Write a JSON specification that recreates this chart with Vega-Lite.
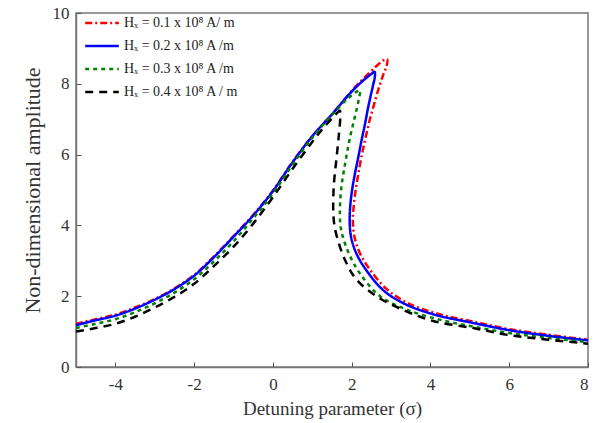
{
  "$schema": "https://vega.github.io/schema/vega-lite/v6.json",
  "width": 512,
  "height": 354,
  "autosize": {"type": "none"},
  "padding": {"left": 76, "top": 13, "right": 7, "bottom": 56},
  "background": "white",
  "config": {
    "view": {"stroke": "#777777", "strokeWidth": 1.5},
    "font": "Liberation Serif"
  },
  "datasets": {
    "curves": [
      {"s": "Hₓ = 0.1 x 10⁸ A/ m", "i": 0, "x": -5, "y": 1.22},
      {"s": "Hₓ = 0.1 x 10⁸ A/ m", "i": 1, "x": -4.5, "y": 1.35},
      {"s": "Hₓ = 0.1 x 10⁸ A/ m", "i": 2, "x": -4, "y": 1.48},
      {"s": "Hₓ = 0.1 x 10⁸ A/ m", "i": 3, "x": -3.5, "y": 1.68},
      {"s": "Hₓ = 0.1 x 10⁸ A/ m", "i": 4, "x": -3, "y": 1.92},
      {"s": "Hₓ = 0.1 x 10⁸ A/ m", "i": 5, "x": -2.5, "y": 2.22},
      {"s": "Hₓ = 0.1 x 10⁸ A/ m", "i": 6, "x": -2, "y": 2.6},
      {"s": "Hₓ = 0.1 x 10⁸ A/ m", "i": 7, "x": -1.5, "y": 3.12},
      {"s": "Hₓ = 0.1 x 10⁸ A/ m", "i": 8, "x": -1, "y": 3.7},
      {"s": "Hₓ = 0.1 x 10⁸ A/ m", "i": 9, "x": -0.5, "y": 4.3},
      {"s": "Hₓ = 0.1 x 10⁸ A/ m", "i": 10, "x": 0, "y": 4.98},
      {"s": "Hₓ = 0.1 x 10⁸ A/ m", "i": 11, "x": 0.5, "y": 5.8},
      {"s": "Hₓ = 0.1 x 10⁸ A/ m", "i": 12, "x": 1, "y": 6.52},
      {"s": "Hₓ = 0.1 x 10⁸ A/ m", "i": 13, "x": 1.5, "y": 7.14},
      {"s": "Hₓ = 0.1 x 10⁸ A/ m", "i": 14, "x": 2, "y": 7.8},
      {"s": "Hₓ = 0.1 x 10⁸ A/ m", "i": 15, "x": 2.3, "y": 8.15},
      {"s": "Hₓ = 0.1 x 10⁸ A/ m", "i": 16, "x": 2.6, "y": 8.47},
      {"s": "Hₓ = 0.1 x 10⁸ A/ m", "i": 17, "x": 2.8, "y": 8.66},
      {"s": "Hₓ = 0.1 x 10⁸ A/ m", "i": 18, "x": 2.9, "y": 8.7},
      {"s": "Hₓ = 0.1 x 10⁸ A/ m", "i": 19, "x": 2.89, "y": 8.52},
      {"s": "Hₓ = 0.1 x 10⁸ A/ m", "i": 20, "x": 2.8, "y": 8.25},
      {"s": "Hₓ = 0.1 x 10⁸ A/ m", "i": 21, "x": 2.68, "y": 7.85},
      {"s": "Hₓ = 0.1 x 10⁸ A/ m", "i": 22, "x": 2.55, "y": 7.35},
      {"s": "Hₓ = 0.1 x 10⁸ A/ m", "i": 23, "x": 2.44, "y": 6.9},
      {"s": "Hₓ = 0.1 x 10⁸ A/ m", "i": 24, "x": 2.34, "y": 6.41},
      {"s": "Hₓ = 0.1 x 10⁸ A/ m", "i": 25, "x": 2.25, "y": 5.95},
      {"s": "Hₓ = 0.1 x 10⁸ A/ m", "i": 26, "x": 2.17, "y": 5.47},
      {"s": "Hₓ = 0.1 x 10⁸ A/ m", "i": 27, "x": 2.1, "y": 5.0},
      {"s": "Hₓ = 0.1 x 10⁸ A/ m", "i": 28, "x": 2.05, "y": 4.53},
      {"s": "Hₓ = 0.1 x 10⁸ A/ m", "i": 29, "x": 2.03, "y": 4.1},
      {"s": "Hₓ = 0.1 x 10⁸ A/ m", "i": 30, "x": 2.07, "y": 3.68},
      {"s": "Hₓ = 0.1 x 10⁸ A/ m", "i": 31, "x": 2.21, "y": 3.21},
      {"s": "Hₓ = 0.1 x 10⁸ A/ m", "i": 32, "x": 2.47, "y": 2.74},
      {"s": "Hₓ = 0.1 x 10⁸ A/ m", "i": 33, "x": 2.89, "y": 2.2},
      {"s": "Hₓ = 0.1 x 10⁸ A/ m", "i": 34, "x": 3.4, "y": 1.82},
      {"s": "Hₓ = 0.1 x 10⁸ A/ m", "i": 35, "x": 4.16, "y": 1.51},
      {"s": "Hₓ = 0.1 x 10⁸ A/ m", "i": 36, "x": 5.18, "y": 1.26},
      {"s": "Hₓ = 0.1 x 10⁸ A/ m", "i": 37, "x": 6, "y": 1.07},
      {"s": "Hₓ = 0.1 x 10⁸ A/ m", "i": 38, "x": 7, "y": 0.91},
      {"s": "Hₓ = 0.1 x 10⁸ A/ m", "i": 39, "x": 8, "y": 0.77},

      {"s": "Hₓ = 0.2 x 10⁸ A /m", "i": 0, "x": -5, "y": 1.18},
      {"s": "Hₓ = 0.2 x 10⁸ A /m", "i": 1, "x": -4.5, "y": 1.32},
      {"s": "Hₓ = 0.2 x 10⁸ A /m", "i": 2, "x": -4, "y": 1.45},
      {"s": "Hₓ = 0.2 x 10⁸ A /m", "i": 3, "x": -3.5, "y": 1.65},
      {"s": "Hₓ = 0.2 x 10⁸ A /m", "i": 4, "x": -3, "y": 1.9},
      {"s": "Hₓ = 0.2 x 10⁸ A /m", "i": 5, "x": -2.5, "y": 2.2},
      {"s": "Hₓ = 0.2 x 10⁸ A /m", "i": 6, "x": -2, "y": 2.58},
      {"s": "Hₓ = 0.2 x 10⁸ A /m", "i": 7, "x": -1.5, "y": 3.1},
      {"s": "Hₓ = 0.2 x 10⁸ A /m", "i": 8, "x": -1, "y": 3.68},
      {"s": "Hₓ = 0.2 x 10⁸ A /m", "i": 9, "x": -0.5, "y": 4.28},
      {"s": "Hₓ = 0.2 x 10⁸ A /m", "i": 10, "x": 0, "y": 4.97},
      {"s": "Hₓ = 0.2 x 10⁸ A /m", "i": 11, "x": 0.5, "y": 5.78},
      {"s": "Hₓ = 0.2 x 10⁸ A /m", "i": 12, "x": 1, "y": 6.52},
      {"s": "Hₓ = 0.2 x 10⁸ A /m", "i": 13, "x": 1.5, "y": 7.14},
      {"s": "Hₓ = 0.2 x 10⁸ A /m", "i": 14, "x": 2, "y": 7.78},
      {"s": "Hₓ = 0.2 x 10⁸ A /m", "i": 15, "x": 2.3, "y": 8.1},
      {"s": "Hₓ = 0.2 x 10⁸ A /m", "i": 16, "x": 2.5, "y": 8.28},
      {"s": "Hₓ = 0.2 x 10⁸ A /m", "i": 17, "x": 2.58, "y": 8.34},
      {"s": "Hₓ = 0.2 x 10⁸ A /m", "i": 18, "x": 2.59, "y": 8.22},
      {"s": "Hₓ = 0.2 x 10⁸ A /m", "i": 19, "x": 2.53, "y": 7.9},
      {"s": "Hₓ = 0.2 x 10⁸ A /m", "i": 20, "x": 2.43, "y": 7.4},
      {"s": "Hₓ = 0.2 x 10⁸ A /m", "i": 21, "x": 2.34, "y": 6.88},
      {"s": "Hₓ = 0.2 x 10⁸ A /m", "i": 22, "x": 2.25, "y": 6.4},
      {"s": "Hₓ = 0.2 x 10⁸ A /m", "i": 23, "x": 2.17, "y": 5.94},
      {"s": "Hₓ = 0.2 x 10⁸ A /m", "i": 24, "x": 2.08, "y": 5.45},
      {"s": "Hₓ = 0.2 x 10⁸ A /m", "i": 25, "x": 2.01, "y": 5.0},
      {"s": "Hₓ = 0.2 x 10⁸ A /m", "i": 26, "x": 1.96, "y": 4.5},
      {"s": "Hₓ = 0.2 x 10⁸ A /m", "i": 27, "x": 1.95, "y": 4.06},
      {"s": "Hₓ = 0.2 x 10⁸ A /m", "i": 28, "x": 1.99, "y": 3.64},
      {"s": "Hₓ = 0.2 x 10⁸ A /m", "i": 29, "x": 2.13, "y": 3.18},
      {"s": "Hₓ = 0.2 x 10⁸ A /m", "i": 30, "x": 2.38, "y": 2.72},
      {"s": "Hₓ = 0.2 x 10⁸ A /m", "i": 31, "x": 2.8, "y": 2.17},
      {"s": "Hₓ = 0.2 x 10⁸ A /m", "i": 32, "x": 3.35, "y": 1.78},
      {"s": "Hₓ = 0.2 x 10⁸ A /m", "i": 33, "x": 4.1, "y": 1.48},
      {"s": "Hₓ = 0.2 x 10⁸ A /m", "i": 34, "x": 5.1, "y": 1.24},
      {"s": "Hₓ = 0.2 x 10⁸ A /m", "i": 35, "x": 6, "y": 1.04},
      {"s": "Hₓ = 0.2 x 10⁸ A /m", "i": 36, "x": 7, "y": 0.88},
      {"s": "Hₓ = 0.2 x 10⁸ A /m", "i": 37, "x": 8, "y": 0.75},

      {"s": "Hₓ = 0.3 x 10⁸ A /m", "i": 0, "x": -5, "y": 1.1},
      {"s": "Hₓ = 0.3 x 10⁸ A /m", "i": 1, "x": -4.5, "y": 1.22},
      {"s": "Hₓ = 0.3 x 10⁸ A /m", "i": 2, "x": -4, "y": 1.35},
      {"s": "Hₓ = 0.3 x 10⁸ A /m", "i": 3, "x": -3.5, "y": 1.55},
      {"s": "Hₓ = 0.3 x 10⁸ A /m", "i": 4, "x": -3, "y": 1.8},
      {"s": "Hₓ = 0.3 x 10⁸ A /m", "i": 5, "x": -2.5, "y": 2.1},
      {"s": "Hₓ = 0.3 x 10⁸ A /m", "i": 6, "x": -2, "y": 2.48},
      {"s": "Hₓ = 0.3 x 10⁸ A /m", "i": 7, "x": -1.5, "y": 2.98},
      {"s": "Hₓ = 0.3 x 10⁸ A /m", "i": 8, "x": -1, "y": 3.55},
      {"s": "Hₓ = 0.3 x 10⁸ A /m", "i": 9, "x": -0.5, "y": 4.2},
      {"s": "Hₓ = 0.3 x 10⁸ A /m", "i": 10, "x": 0, "y": 4.9},
      {"s": "Hₓ = 0.3 x 10⁸ A /m", "i": 11, "x": 0.5, "y": 5.72},
      {"s": "Hₓ = 0.3 x 10⁸ A /m", "i": 12, "x": 1, "y": 6.48},
      {"s": "Hₓ = 0.3 x 10⁸ A /m", "i": 13, "x": 1.5, "y": 7.12},
      {"s": "Hₓ = 0.3 x 10⁸ A /m", "i": 14, "x": 1.9, "y": 7.58},
      {"s": "Hₓ = 0.3 x 10⁸ A /m", "i": 15, "x": 2.1, "y": 7.76},
      {"s": "Hₓ = 0.3 x 10⁸ A /m", "i": 16, "x": 2.21, "y": 7.82},
      {"s": "Hₓ = 0.3 x 10⁸ A /m", "i": 17, "x": 2.18, "y": 7.56},
      {"s": "Hₓ = 0.3 x 10⁸ A /m", "i": 18, "x": 2.11, "y": 7.2},
      {"s": "Hₓ = 0.3 x 10⁸ A /m", "i": 19, "x": 2.04, "y": 6.88},
      {"s": "Hₓ = 0.3 x 10⁸ A /m", "i": 20, "x": 1.97, "y": 6.55},
      {"s": "Hₓ = 0.3 x 10⁸ A /m", "i": 21, "x": 1.91, "y": 6.22},
      {"s": "Hₓ = 0.3 x 10⁸ A /m", "i": 22, "x": 1.85, "y": 5.85},
      {"s": "Hₓ = 0.3 x 10⁸ A /m", "i": 23, "x": 1.79, "y": 5.47},
      {"s": "Hₓ = 0.3 x 10⁸ A /m", "i": 24, "x": 1.74, "y": 5.1},
      {"s": "Hₓ = 0.3 x 10⁸ A /m", "i": 25, "x": 1.71, "y": 4.72},
      {"s": "Hₓ = 0.3 x 10⁸ A /m", "i": 26, "x": 1.7, "y": 4.3},
      {"s": "Hₓ = 0.3 x 10⁸ A /m", "i": 27, "x": 1.72, "y": 3.96},
      {"s": "Hₓ = 0.3 x 10⁸ A /m", "i": 28, "x": 1.78, "y": 3.66},
      {"s": "Hₓ = 0.3 x 10⁸ A /m", "i": 29, "x": 1.93, "y": 3.2},
      {"s": "Hₓ = 0.3 x 10⁸ A /m", "i": 30, "x": 2.21, "y": 2.64},
      {"s": "Hₓ = 0.3 x 10⁸ A /m", "i": 31, "x": 2.72, "y": 2.0},
      {"s": "Hₓ = 0.3 x 10⁸ A /m", "i": 32, "x": 3.4, "y": 1.62},
      {"s": "Hₓ = 0.3 x 10⁸ A /m", "i": 33, "x": 4.33, "y": 1.31},
      {"s": "Hₓ = 0.3 x 10⁸ A /m", "i": 34, "x": 5.09, "y": 1.14},
      {"s": "Hₓ = 0.3 x 10⁸ A /m", "i": 35, "x": 6, "y": 0.96},
      {"s": "Hₓ = 0.3 x 10⁸ A /m", "i": 36, "x": 7, "y": 0.82},
      {"s": "Hₓ = 0.3 x 10⁸ A /m", "i": 37, "x": 8, "y": 0.7},

      {"s": "Hₓ = 0.4 x 10⁸ A / m", "i": 0, "x": -5, "y": 1.0},
      {"s": "Hₓ = 0.4 x 10⁸ A / m", "i": 1, "x": -4.5, "y": 1.1},
      {"s": "Hₓ = 0.4 x 10⁸ A / m", "i": 2, "x": -4, "y": 1.22},
      {"s": "Hₓ = 0.4 x 10⁸ A / m", "i": 3, "x": -3.5, "y": 1.42},
      {"s": "Hₓ = 0.4 x 10⁸ A / m", "i": 4, "x": -3, "y": 1.68},
      {"s": "Hₓ = 0.4 x 10⁸ A / m", "i": 5, "x": -2.5, "y": 1.98},
      {"s": "Hₓ = 0.4 x 10⁸ A / m", "i": 6, "x": -2, "y": 2.35},
      {"s": "Hₓ = 0.4 x 10⁸ A / m", "i": 7, "x": -1.5, "y": 2.85},
      {"s": "Hₓ = 0.4 x 10⁸ A / m", "i": 8, "x": -1, "y": 3.4},
      {"s": "Hₓ = 0.4 x 10⁸ A / m", "i": 9, "x": -0.5, "y": 4.05},
      {"s": "Hₓ = 0.4 x 10⁸ A / m", "i": 10, "x": 0, "y": 4.8},
      {"s": "Hₓ = 0.4 x 10⁸ A / m", "i": 11, "x": 0.5, "y": 5.6},
      {"s": "Hₓ = 0.4 x 10⁸ A / m", "i": 12, "x": 1, "y": 6.36},
      {"s": "Hₓ = 0.4 x 10⁸ A / m", "i": 13, "x": 1.3, "y": 6.78},
      {"s": "Hₓ = 0.4 x 10⁸ A / m", "i": 14, "x": 1.53, "y": 7.06},
      {"s": "Hₓ = 0.4 x 10⁸ A / m", "i": 15, "x": 1.65, "y": 7.2},
      {"s": "Hₓ = 0.4 x 10⁸ A / m", "i": 16, "x": 1.7, "y": 7.24},
      {"s": "Hₓ = 0.4 x 10⁸ A / m", "i": 17, "x": 1.71, "y": 7.05},
      {"s": "Hₓ = 0.4 x 10⁸ A / m", "i": 18, "x": 1.67, "y": 6.51},
      {"s": "Hₓ = 0.4 x 10⁸ A / m", "i": 19, "x": 1.61, "y": 5.85},
      {"s": "Hₓ = 0.4 x 10⁸ A / m", "i": 20, "x": 1.55, "y": 5.19},
      {"s": "Hₓ = 0.4 x 10⁸ A / m", "i": 21, "x": 1.53, "y": 4.53},
      {"s": "Hₓ = 0.4 x 10⁸ A / m", "i": 22, "x": 1.55, "y": 4.1},
      {"s": "Hₓ = 0.4 x 10⁸ A / m", "i": 23, "x": 1.61, "y": 3.74},
      {"s": "Hₓ = 0.4 x 10⁸ A / m", "i": 24, "x": 1.83, "y": 3.02},
      {"s": "Hₓ = 0.4 x 10⁸ A / m", "i": 25, "x": 2.13, "y": 2.46},
      {"s": "Hₓ = 0.4 x 10⁸ A / m", "i": 26, "x": 2.64, "y": 1.99},
      {"s": "Hₓ = 0.4 x 10⁸ A / m", "i": 27, "x": 3.31, "y": 1.61},
      {"s": "Hₓ = 0.4 x 10⁸ A / m", "i": 28, "x": 4.07, "y": 1.3},
      {"s": "Hₓ = 0.4 x 10⁸ A / m", "i": 29, "x": 5.09, "y": 1.1},
      {"s": "Hₓ = 0.4 x 10⁸ A / m", "i": 30, "x": 6, "y": 0.9},
      {"s": "Hₓ = 0.4 x 10⁸ A / m", "i": 31, "x": 7, "y": 0.77},
      {"s": "Hₓ = 0.4 x 10⁸ A / m", "i": 32, "x": 8, "y": 0.66}
    ]
  },
  "data": {"name": "curves"},
  "mark": {"type": "line", "interpolate": "catmull-rom", "strokeWidth": 2.5, "clip": true},
  "encoding": {
    "x": {
      "field": "x", "type": "quantitative",
      "scale": {"domain": [-5, 8], "nice": false, "zero": false},
      "axis": {
        "title": "Detuning parameter (σ)",
        "values": [-4, -2, 0, 2, 4, 6, 8],
        "labelExpr": "'' + datum.value",
        "grid": false,
        "domainColor": "#777777", "domainWidth": 1.5,
        "tickColor": "#555555", "tickSize": -5, "tickWidth": 1,
        "labelFont": "Liberation Serif", "labelFontSize": 17, "labelColor": "#333333",
        "labelPadding": 14,
        "titleFont": "Liberation Serif", "titleFontSize": 19, "titleFontWeight": "normal", "titleColor": "#333333",
        "titlePadding": 7
      }
    },
    "y": {
      "field": "y", "type": "quantitative",
      "scale": {"domain": [0, 10], "nice": false},
      "axis": {
        "title": "Non-dimensional amplitude",
        "values": [0, 2, 4, 6, 8, 10],
        "grid": false,
        "domainColor": "#777777", "domainWidth": 1.5,
        "tickColor": "#555555", "tickSize": -5, "tickWidth": 1,
        "labelFont": "Liberation Serif", "labelFontSize": 17, "labelColor": "#333333",
        "labelPadding": 12,
        "titleFont": "Liberation Serif", "titleFontSize": 22, "titleFontWeight": "normal", "titleColor": "#333333",
        "titlePadding": 8
      }
    },
    "order": {"field": "i", "type": "quantitative"},
    "color": {
      "field": "s", "type": "nominal",
      "scale": {
        "domain": ["Hₓ = 0.1 x 10⁸ A/ m", "Hₓ = 0.2 x 10⁸ A /m", "Hₓ = 0.3 x 10⁸ A /m", "Hₓ = 0.4 x 10⁸ A / m"],
        "range": ["#ff0000", "#0000ff", "#008000", "#000000"]
      },
      "legend": {
        "title": null,
        "orient": "none",
        "legendX": 6,
        "legendY": -2,
        "symbolType": "M-1.6,0H1.6",
        "symbolSize": 441,
        "symbolOffset": 8,
        "symbolStrokeWidth": 3,
        "labelOffset": 10,
        "labelFont": "Liberation Serif",
        "labelFontSize": 14,
        "labelColor": "#222222",
        "rowPadding": 4
      }
    },
    "strokeDash": {
      "field": "s", "type": "nominal",
      "scale": {
        "domain": ["Hₓ = 0.1 x 10⁸ A/ m", "Hₓ = 0.2 x 10⁸ A /m", "Hₓ = 0.3 x 10⁸ A /m", "Hₓ = 0.4 x 10⁸ A / m"],
        "range": [[7, 3, 2, 3], [1, 0], [4, 4], [8, 6]]
      },
      "legend": null
    },
    "strokeWidth": {
      "field": "s", "type": "nominal",
      "scale": {
        "domain": ["Hₓ = 0.1 x 10⁸ A/ m", "Hₓ = 0.2 x 10⁸ A /m", "Hₓ = 0.3 x 10⁸ A /m", "Hₓ = 0.4 x 10⁸ A / m"],
        "range": [2.5, 2.5, 4, 2.5]
      },
      "legend": null
    }
  }
}
